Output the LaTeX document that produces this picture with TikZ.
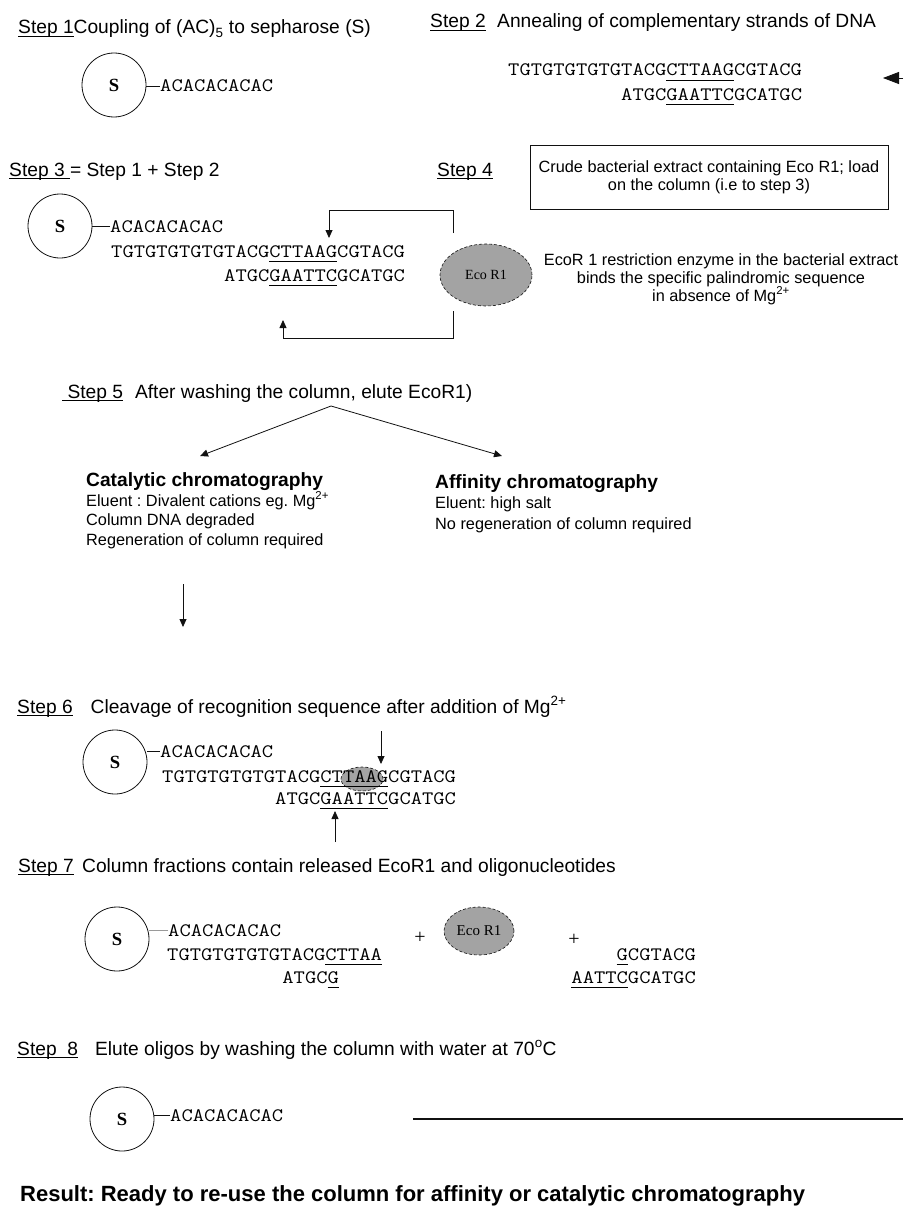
\documentclass[tikz,border=0pt]{standalone}
\usepackage{fontspec}
\setmainfont{Liberation Sans}
\newfontfamily\seqfont[FakeStretch=1.155]{Latin Modern Mono}
\newfontfamily\romfont{Liberation Serif}
\usetikzlibrary{arrows.meta, calc, shapes.geometric}
\definecolor{cInk}{HTML}{111111}
\definecolor{cEnz}{HTML}{A3A3A3}
\definecolor{cDash}{HTML}{9A9A9A}
% underlined step labels and recognition sites
\newcommand{\stepbar}[1]{\setbox0=\hbox{#1}\rlap{\rule[-2.6pt]{\wd0}{0.9pt}}\box0}
\newcommand{\seqbar}[1]{\setbox0=\hbox{#1}\rlap{\rule[-5pt]{\wd0}{1.1pt}}\box0}
\frenchspacing

\begin{document}
\begin{tikzpicture}[
    x=1pt, y=-1pt,
    hdr/.style={font=\fontsize{19.2}{23}\selectfont, anchor=base west, inner sep=0pt},
    body/.style={font=\fontsize{16.3}{18}\selectfont, anchor=base west, inner sep=0pt},
    ttl/.style={font=\bfseries\fontsize{19.2}{23}\selectfont, anchor=base west, inner sep=0pt},
    seq/.style={font=\seqfont\fontsize{19}{23}\selectfont, anchor=base west, inner sep=0pt},
    plus/.style={font=\romfont\fontsize{20}{22}\selectfont, inner sep=0pt},
    bead/.style={draw=cInk, circle, line width=0.8pt, minimum size=64pt, inner sep=0pt,
                 font=\romfont\bfseries\fontsize{18.6}{20}\selectfont},
    enz/.style={draw=cInk, densely dashed, ellipse, fill=cEnz, line width=0.6pt,
                inner sep=0pt, font=\romfont\fontsize{14}{16}\selectfont},
    link/.style={line width=0.8pt, cInk},
    arr/.style={-{Triangle[length=8pt, width=7pt]}, line width=0.8pt, cInk},
]
\useasboundingbox (0,0) rectangle (903,1207);

% ===========================================================================
% Step 1 / Step 2
% ===========================================================================
\node[hdr] (st1) at (18,34) {\stepbar{Step 1}Coupling of (AC)\textsubscript{5} to sepharose (S)};
\node[bead] (s1) at (114,85) {S};
\node[seq] (ac1) at (160,92) {ACACACACAC};
\draw[link] (ac1.west) -- (ac1.west -| s1.east);

\node[hdr] (st2) at (430,28) {\stepbar{Step 2}\hspace{11.5pt}Annealing of complementary strands of DNA};
\node[seq] (up2) at (508,76) {TGTGTGTGTGTACG\seqbar{CTTAAG}CGTACG};
\node[seq, anchor=base east] (lo2) at ($(up2.base east)+(0,24)$) {ATGC\seqbar{GAATTC}GCATGC};

% ----- feed from the right -----
\coordinate (feed2) at (903,78);
\coordinate (tip2) at (883,78);
\draw[link, -{Triangle[length=16pt, width=12pt]}] (feed2) -- (tip2);

% ===========================================================================
% Step 3 / Step 4
% ===========================================================================
\node[hdr] (st3) at (9,176) {\stepbar{Step 3 }= Step 1 + Step 2};
\node[bead] (s3) at (60,226) {S};
\node[seq] (ac3) at (110,232) {ACACACACAC};
\draw[link] (ac3.west) -- (ac3.west -| s3.east);
\node[seq] (up3) at (111,257) {TGTGTGTGTGTACG\seqbar{CTTAAG}CGTACG};
\node[seq, anchor=base east] (lo3) at ($(up3.base east)+(0,24)$) {ATGC\seqbar{GAATTC}GCATGC};

\node[hdr] (st4) at (437,176) {\stepbar{Step 4}};
\node[draw=cInk, line width=0.8pt, minimum width=358pt, minimum height=64pt, align=center,
      font=\fontsize{16.3}{18}\selectfont] (box4) at (709,177)
      {Crude bacterial extract containing Eco R1; load\\on the column (i.e to step 3)};
\node[enz, minimum width=92pt, minimum height=62pt] (eco4) at (486,275) {Eco R1};
\node[align=center, inner sep=0pt, font=\fontsize{16.3}{18}\selectfont] (note4) at (721,279)
      {EcoR 1 restriction enzyme in the bacterial extract\\binds the specific palindromic sequence\\in absence of Mg\textsuperscript{2+}};

% ----- loading loop round the enzyme -----
\coordinate (lpA) at (453,233);
\coordinate (lpB) at (453,210);
\coordinate (lpC) at (329,210);
\coordinate (lpD) at (329,238);
\draw[arr] (lpA) -- (lpB) -- (lpC) -- (lpD);
\coordinate (lpE) at (453,311);
\coordinate (lpF) at (453,338);
\coordinate (lpG) at (283,338);
\coordinate (lpH) at (283,320);
\draw[arr] (lpE) -- (lpF) -- (lpG) -- (lpH);

% ===========================================================================
% Step 5
% ===========================================================================
\node[hdr] (st5) at (62,398) {\stepbar{\ Step 5}\hspace{12pt}After washing the column, elute EcoR1)};
\coordinate (ap5) at (331,406);
\coordinate (cat5) at (200,456);
\coordinate (aff5) at (502,456);
\draw[arr] (ap5) -- (cat5);
\draw[arr] (ap5) -- (aff5);

\node[ttl] (cat) at (86,486) {Catalytic chromatography};
\node[body] (cat1) at (86,506) {Eluent : Divalent cations eg. Mg\textsuperscript{2+}};
\node[body] (cat2) at (86,525) {Column DNA degraded};
\node[body] (cat3) at (86,545) {Regeneration of column required};

\node[ttl] (aff) at (435,488) {Affinity chromatography};
\node[body] (aff1) at (435,508) {Eluent: high salt};
\node[body] (aff2) at (435,529) {No regeneration of column required};

\coordinate (dn5) at (183,584);
\coordinate (dn6) at (183,627);
\draw[arr] (dn5) -- (dn6);

% ===========================================================================
% Step 6
% ===========================================================================
\node[hdr] (st6) at (17,713) {\stepbar{Step 6}\hspace{18pt}Cleavage of recognition sequence after addition of Mg\textsuperscript{2+}};
\node[bead] (s6) at (115,762) {S};
\node[enz, minimum width=42pt, minimum height=24pt] (cut6) at (362,779) {};
\node[seq] (ac6) at (160,757) {ACACACACAC};
\draw[link] (ac6.west) -- (ac6.west -| s6.east);
\node[seq] (up6) at (162,782) {TGTGTGTGTGTACG\seqbar{CTTAAG}CGTACG};
\node[seq, anchor=base east] (lo6) at ($(up6.base east)+(0,22)$) {ATGC\seqbar{GAATTC}GCATGC};

% cut sites: G^AATTC on each strand
\coordinate (cutT) at (381,731);
\coordinate (cutTt) at (381,764);
\draw[arr] (cutT) -- (cutTt);
\coordinate (cutB) at (335,842);
\coordinate (cutBt) at (335,811);
\draw[arr] (cutB) -- (cutBt);

% ===========================================================================
% Step 7
% ===========================================================================
\node[hdr] (st7) at (18,872) {\stepbar{Step 7}\hspace{8.5pt}Column fractions contain released EcoR1 and oligonucleotides};
\node[bead] (s7) at (117,939) {S};
\node[seq] (ac7) at (168,936) {ACACACACAC};
\draw[line width=0.8pt, cDash] (ac7.west) -- (ac7.west -| s7.east);
\node[seq] (up7) at (167,960) {TGTGTGTGTGTACG\seqbar{CTTAA}};
\node[seq] (lo7) at ($(up7.base west)+(115.2,23)$) {ATGC\seqbar{G}};

\node[plus] (pl7a) at (420,938) {+};
\node[enz, minimum width=70pt, minimum height=48pt, font=\romfont\fontsize{15}{17}\selectfont] (eco7) at (479,931) {Eco R1};
\node[plus] (pl7b) at (574,940) {+};
\node[seq, anchor=base east] (fr7a) at (696,960) {\seqbar{G}CGTACG};
\node[seq, anchor=base east] (fr7b) at (696,983) {\seqbar{AATTC}GCATGC};

% ===========================================================================
% Step 8
% ===========================================================================
\node[hdr] (st8) at (17,1055) {\stepbar{Step\ \ 8}\hspace{17pt}Elute oligos by washing the column with water at 70\textsuperscript{o}C};
\node[bead] (s8) at (122,1119) {S};
\node[seq] (ac8) at (170,1121) {ACACACACAC};
\draw[link] (ac8.west) -- (ac8.west -| s8.east);
\coordinate (ln8a) at (413,1119);
\coordinate (ln8b) at (903,1119);
\draw[line width=1.3pt, cInk] (ln8a) -- (ln8b);

\node[font=\bfseries\fontsize{22}{26}\selectfont, anchor=base west, inner sep=0pt] (res) at (20,1201)
      {Result: Ready to re-use the column for affinity or catalytic chromatography};

\end{tikzpicture}
\end{document}
